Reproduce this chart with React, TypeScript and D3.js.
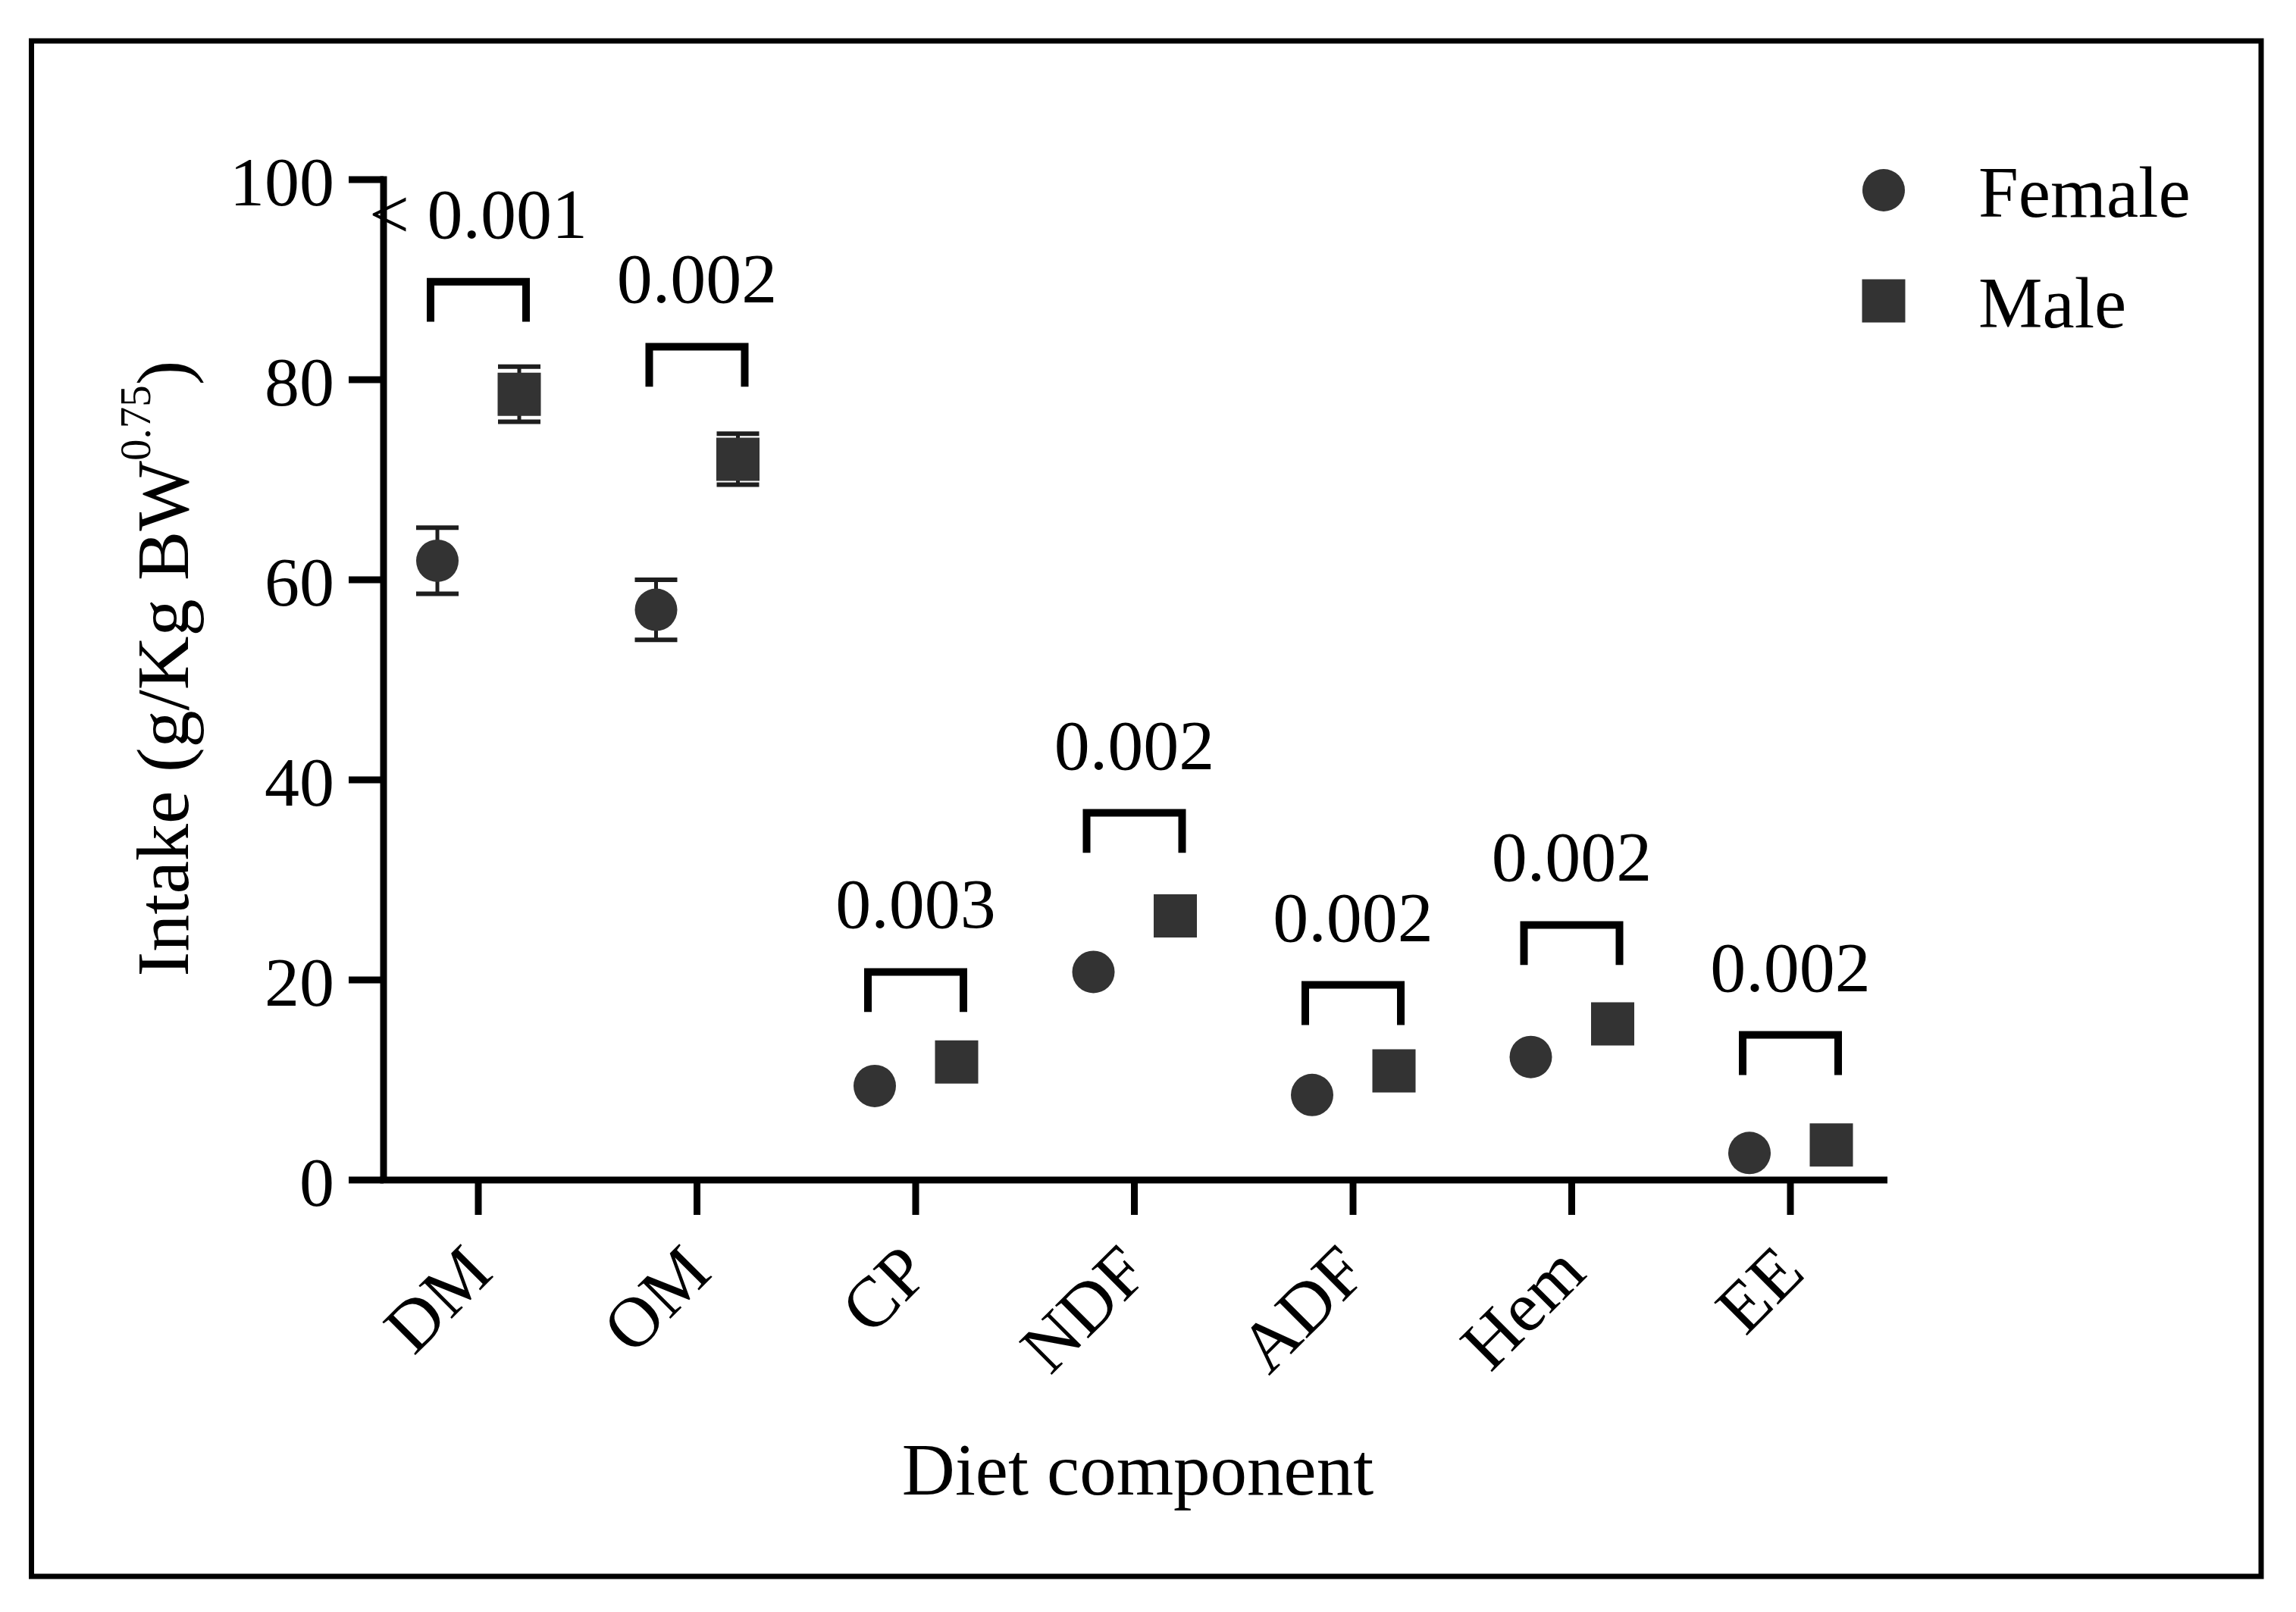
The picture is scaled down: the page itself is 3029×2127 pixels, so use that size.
import { scaleLinear, scalePoint, symbol, symbolCircle, symbolSquare } from "d3";

const categories = ["DM", "OM", "CP", "NDF", "ADF", "Hem", "EE"];
const femaleMean = [61.9, 57.0, 9.4, 20.8, 8.5, 12.3, 2.7];
const femaleSem = [3.3, 3.0, 0, 0, 0, 0, 0];
const maleMean = [78.55, 72.05, 11.8, 26.4, 10.9, 15.6, 3.5];
const maleSem = [2.75, 2.55, 0, 0, 0, 0, 0];
const pLabels = ["< 0.001", "0.002", "0.003", "0.002", "0.002", "0.002", "0.002"];
const bracketTop = [89.8, 83.3, 20.8, 36.7, 19.5, 25.5, 14.5];
const yTicks = [0, 20, 40, 60, 80, 100];
const seriesNames = ["Female", "Male"];

const W = 3029;
const H = 2127;
const FONT = "'Liberation Serif', 'Times New Roman', serif";
const MARK = "#333333";

export default function App() {
  const x = scalePoint<string>().domain(categories).range([631, 2362]);
  const y = scaleLinear().domain([0, 100]).range([1557, 237]);
  const axisX = 506;
  const axisRight = 2490;
  const tickLen = 46;
  const offset = 54;
  const legOffset = 63;
  const legDrop = 4;

  const circlePath = symbol(symbolCircle, Math.PI * 28 * 28)()!;
  const squarePath = symbol(symbolSquare, 57 * 57)()!;

  const errBar = (cx: number, mean: number, sem: number, key: string) => {
    if (!sem) return null;
    const hw = 28;
    return (
      <g key={key} stroke="#1e1e1e" fill="none">
        <line x1={cx} x2={cx} y1={y(mean + sem)} y2={y(mean - sem)} strokeWidth={5} />
        <line x1={cx - hw} x2={cx + hw} y1={y(mean + sem)} y2={y(mean + sem)} strokeWidth={6} />
        <line x1={cx - hw} x2={cx + hw} y1={y(mean - sem)} y2={y(mean - sem)} strokeWidth={6} />
      </g>
    );
  };

  return (
    <svg
      width={W}
      height={H}
      viewBox={`0 0 ${W} ${H}`}
      style={{ position: "absolute", left: 0, top: 0, background: "#fff" }}
      fontFamily={FONT}
    >
      <rect x={41.5} y={54} width={2941.5} height={2026} fill="none" stroke="#000" strokeWidth={7} />

      {/* y axis */}
      <line x1={axisX} x2={axisX} y1={y(100) - 4.5} y2={y(0)} stroke="#000" strokeWidth={9} />
      {yTicks.map((t) => (
        <g key={`yt${t}`}>
          <line x1={axisX - tickLen} x2={axisX} y1={y(t)} y2={y(t)} stroke="#000" strokeWidth={9} />
          <text x={441} y={y(t)} dy="0.37em" textAnchor="end" fontSize={92} fill="#000">
            {t}
          </text>
        </g>
      ))}

      {/* x axis */}
      <line x1={axisX - 4.5} x2={axisRight} y1={y(0)} y2={y(0)} stroke="#000" strokeWidth={9} />
      {categories.map((c) => (
        <g key={`xt${c}`}>
          <line x1={x(c)!} x2={x(c)!} y1={y(0)} y2={y(0) + tickLen} stroke="#000" strokeWidth={9} />
          <text
            transform={`translate(${x(c)! + 22},${1683}) rotate(-45)`}
            textAnchor="end"
            fontSize={94}
            fill="#000"
          >
            {c}
          </text>
        </g>
      ))}

      {/* brackets + p values */}
      {categories.map((c, i) => {
        const cx = x(c)!;
        const top = y(bracketTop[i]);
        const bottom = y(bracketTop[i] - legDrop);
        const d = `M${cx - legOffset},${bottom}V${top}H${cx + legOffset}V${bottom}`;
        return (
          <g key={`br${c}`}>
            <path d={d} fill="none" stroke="#000" strokeWidth={10} strokeLinejoin="miter" />
            <text x={cx} y={top - 58} textAnchor="middle" fontSize={94} fill="#000">
              {pLabels[i]}
            </text>
          </g>
        );
      })}

      {/* error bars */}
      {categories.map((c, i) => errBar(x(c)! - offset, femaleMean[i], femaleSem[i], `fe${c}`))}
      {categories.map((c, i) => errBar(x(c)! + offset, maleMean[i], maleSem[i], `me${c}`))}

      {/* points */}
      {categories.map((c, i) => (
        <path
          key={`f${c}`}
          d={circlePath}
          transform={`translate(${x(c)! - offset},${y(femaleMean[i])})`}
          fill={MARK}
        />
      ))}
      {categories.map((c, i) => (
        <path
          key={`m${c}`}
          d={squarePath}
          transform={`translate(${x(c)! + offset},${y(maleMean[i])})`}
          fill={MARK}
        />
      ))}

      {/* legend */}
      {seriesNames.map((name, i) => (
        <g key={name} transform={`translate(2485,${251 + i * 146})`}>
          <path d={i === 0 ? circlePath : squarePath} fill={MARK} />
          <text x={125} y={35} fontSize={95} fill="#000">
            {name}
          </text>
        </g>
      ))}

      {/* axis titles */}
      <text x={1501} y={1972} textAnchor="middle" fontSize={97} fill="#000">
        Diet component
      </text>
      <text transform="translate(248,882) rotate(-90)" textAnchor="middle" fontSize={98} fill="#000">
        Intake (g/Kg BW
        <tspan fontSize={57} dy={-50}>
          0.75
        </tspan>
        <tspan dy={50}>)</tspan>
      </text>
    </svg>
  );
}
